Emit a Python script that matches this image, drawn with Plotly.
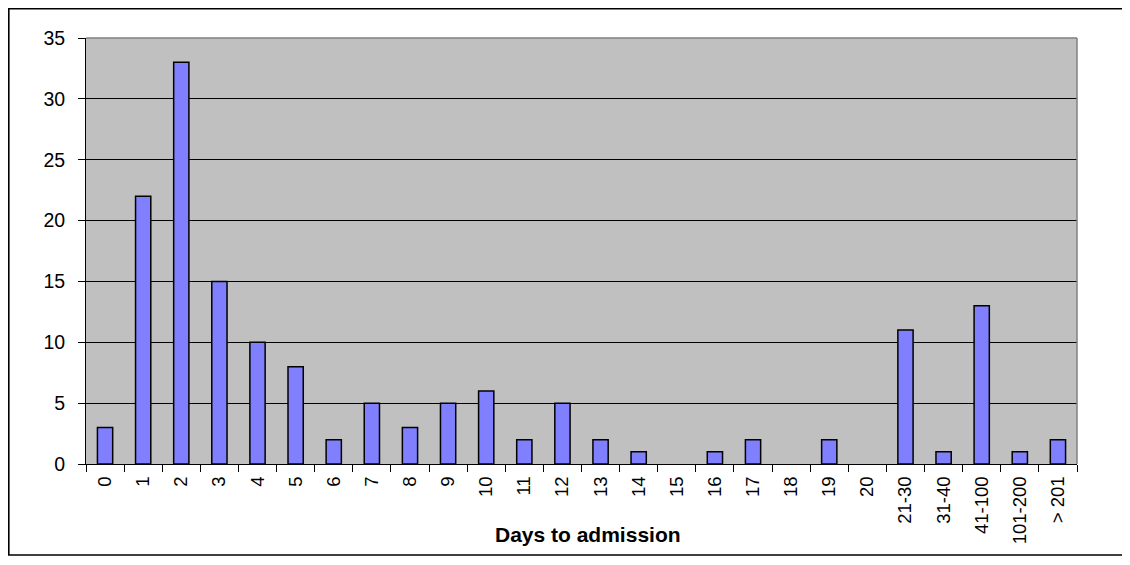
import plotly.graph_objects as go

categories = ["0","1","2","3","4","5","6","7","8","9","10","11","12","13","14","15","16","17","18","19","20",
              "21-30","31-40","41-100","101-200","> 201"]
counts = [3,22,33,15,10,8,2,5,3,5,6,2,5,2,1,0,1,2,0,2,0,11,1,13,1,2]
y_ticks = [0,5,10,15,20,25,30,35]
x_title = "Days to admission"

# page has an 8px body margin, so figure coordinates = screen - 8
W, H = 1122, 557
L, R, T, B = 78, 1069, 30, 456

fig = go.Figure(go.Bar(
    x=categories, y=counts,
    marker=dict(color="#8080FF",
                line=dict(color="black", width=[1.5 if v > 0 else 0 for v in counts])),
))

pw, ph = R - L, B - T
def px(x): return (x - L) / pw
def py(y): return (B - y) / ph

fig.update_layout(
    width=W, height=H,
    margin=dict(l=L, r=W - R, t=T, b=H - B, autoexpand=False),
    paper_bgcolor="white", plot_bgcolor="#C0C0C0",
    bargap=0.6, showlegend=False,
    font=dict(family="Liberation Sans, Arial", size=19, color="black"),
    xaxis=dict(
        type="category", tickangle=-90, ticks="outside", tickson="boundaries",
        ticklen=7, tickcolor="black", showgrid=False, showline=True, linecolor="black",
        tickfont=dict(size=18.5), automargin=False, ticklabelstandoff=4,
    ),
    yaxis=dict(
        range=[0, 35], tickvals=y_ticks, ticks="outside", ticklen=7, tickcolor="black",
        showgrid=True, gridcolor="black", gridwidth=1, showline=True, linecolor="black",
        zeroline=False, tickfont=dict(size=19.5), automargin=False, ticklabelstandoff=9,
    ),
    annotations=[
        dict(text="<b>" + x_title + "</b>", xref="paper", yref="paper",
             x=px(580), y=py(526), xanchor="center", yanchor="middle",
             showarrow=False, font=dict(size=21)),
    ],
    shapes=[
        dict(type="line", xref="paper", yref="paper", x0=0, x1=1, y0=1, y1=1,
             line=dict(color="#808080", width=1.5)),
        dict(type="line", xref="paper", yref="paper", x0=1, x1=1, y0=0, y1=1,
             line=dict(color="#808080", width=1.5)),
        dict(type="rect", xref="paper", yref="paper",
             x0=px(0.8), x1=px(W + 20), y0=py(547), y1=py(0.8),
             line=dict(color="black", width=1.6), fillcolor="rgba(0,0,0,0)"),
    ],
)

fig.write_html("out.html")
